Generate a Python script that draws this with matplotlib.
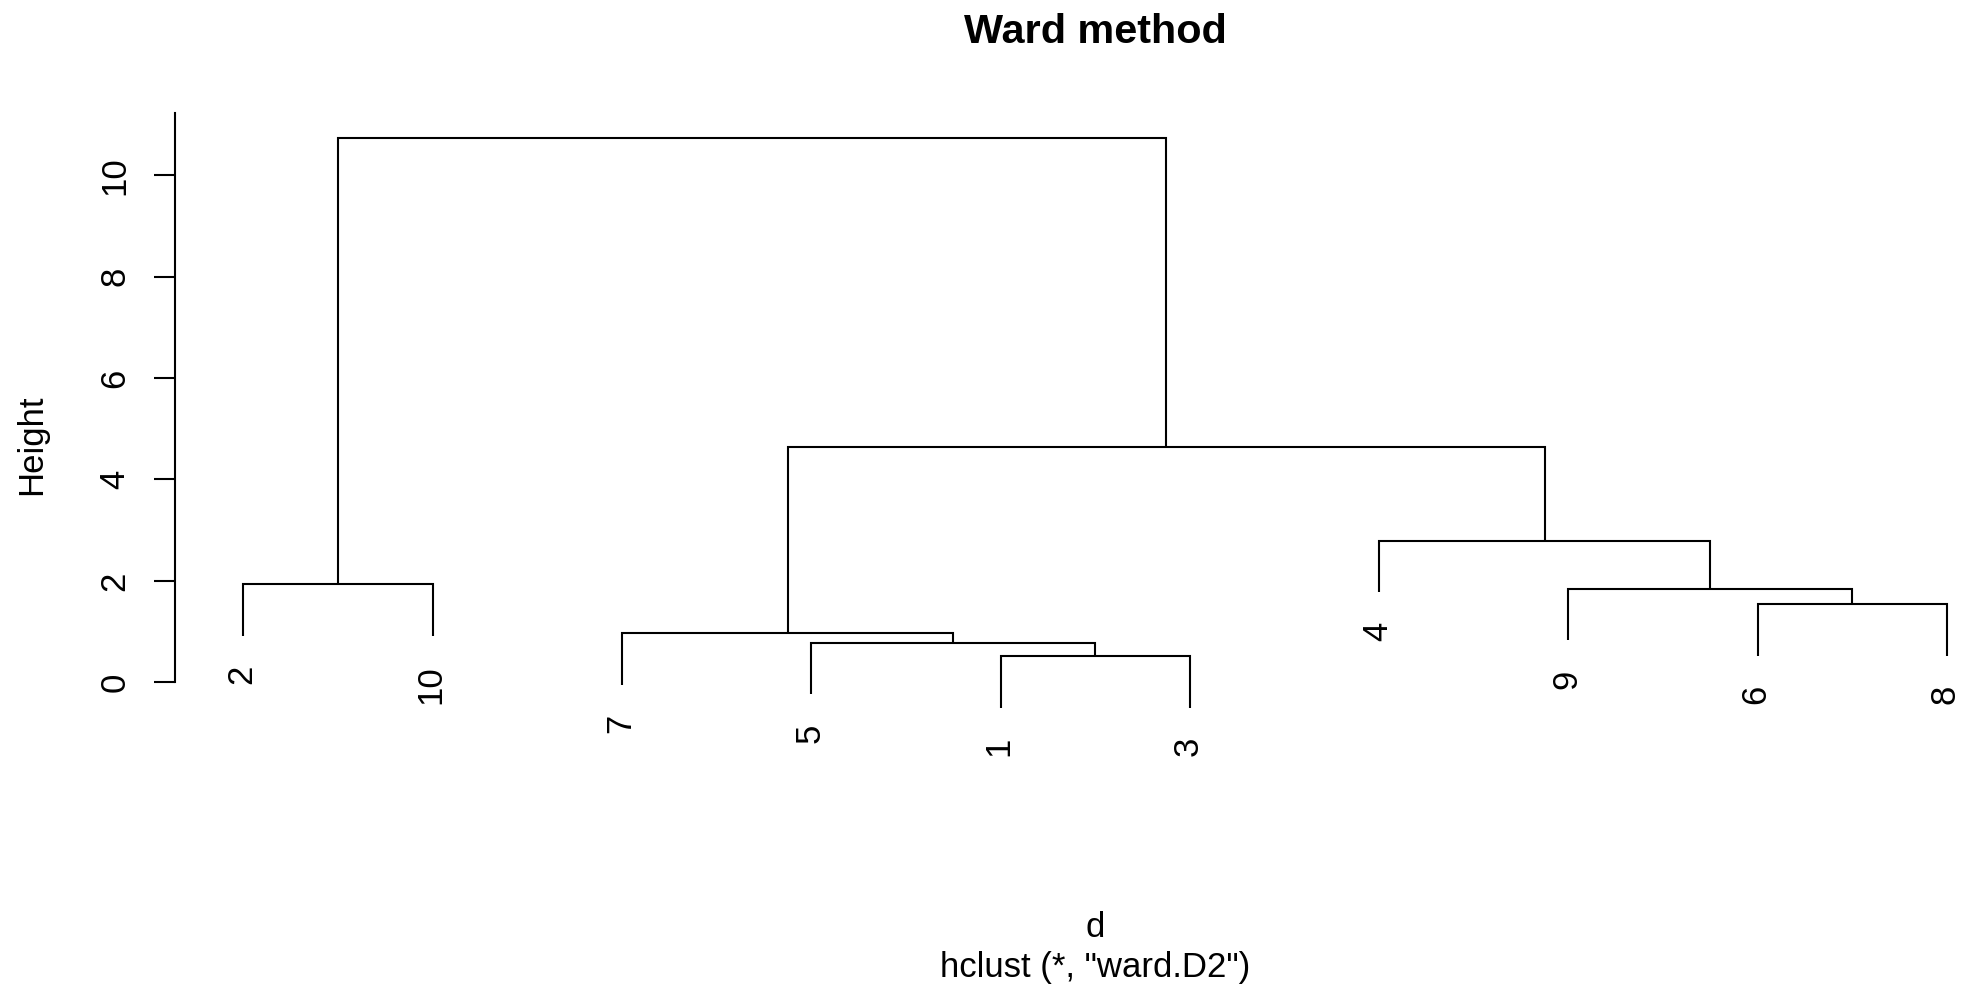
import matplotlib
matplotlib.use("Agg")
import matplotlib.pyplot as plt
from matplotlib.transforms import blended_transform_factory

# Hierarchical clustering result (R hclust style):
# negative = singleton observation, positive = earlier merge step (1-based)
merge_left = [-1, -5, -7, -6, -9, -2, -4, 3, 6]
merge_right = [-3, 1, 2, -8, 4, -10, 5, 7, 8]
merge_height = [0.519, 0.781, 0.966, 1.544, 1.846, 1.939, 2.795, 4.647, 10.74]
leaf_order = [2, 10, 7, 5, 1, 3, 4, 9, 6, 8]

y_ticks = [0, 2, 4, 6, 8, 10]
title = "Ward method"
x_label = "d"
sub_label = 'hclust (*, "ward.D2")'
y_label = "Height"

plt.rcParams["font.family"] = ["Liberation Sans", "DejaVu Sans"]

W, H, DPI = 1962, 988, 100
fig = plt.figure(figsize=(W / DPI, H / DPI), dpi=DPI)

# plot region in pixels (right edge runs past the canvas)
left_px, right_px, top_px, bottom_px = 175.3, 2015.0, 113.3, 771.5
ax = fig.add_axes([left_px / W, 1 - bottom_px / H,
                   (right_px - left_px) / W, (bottom_px - top_px) / H])
n = len(leaf_order)
ax.set_xlim(1 - 0.04 * (n - 1), n + 0.04 * (n - 1))
ax.set_ylim(-1.76, 11.22)

lw = 1.5
hang = 0.1 * (max(merge_height) - min(merge_height))
px2pt = 72.0 / DPI

leaf_pos = {lab: i + 1 for i, lab in enumerate(leaf_order)}
node_x = {}
node_y = {}


def child_xy(c, h):
    if c < 0:
        return leaf_pos[-c], h - hang, True, -c
    return node_x[c], node_y[c], False, None


for k, (a, b, h) in enumerate(zip(merge_left, merge_right, merge_height), start=1):
    xa, ya, la, ida = child_xy(a, h)
    xb, yb, lb, idb = child_xy(b, h)
    ax.plot([xa, xa, xb, xb], [ya, h, h, yb], color="black", lw=lw,
            solid_joinstyle="miter", solid_capstyle="butt", clip_on=False)
    for is_leaf, xx, yy, lab in ((la, xa, ya, ida), (lb, xb, yb, idb)):
        if is_leaf:
            ax.annotate(str(lab), xy=(xx, yy), xytext=(8 * px2pt, -29 * px2pt),
                        textcoords="offset points", rotation=90,
                        rotation_mode="anchor", ha="right", va="baseline",
                        fontsize=25, annotation_clip=False)
    node_x[k] = (xa + xb) / 2.0
    node_y[k] = h

# axis: only the left spine, from 0 up to the top of the region
for s in ("top", "right", "bottom"):
    ax.spines[s].set_visible(False)
ax.spines["left"].set_bounds(0, 11.22)
ax.spines["left"].set_linewidth(lw)
ax.set_xticks([])
ax.set_yticks(y_ticks)
ax.set_yticklabels([])
ax.tick_params(axis="y", length=21.3 * px2pt, width=lw, direction="out")

trans = blended_transform_factory(ax.transAxes, ax.transData)
for t in y_ticks:
    ax.annotate(str(t), xy=(0, t), xycoords=trans,
                xytext=(-51 * px2pt, 0), textcoords="offset points",
                rotation=90, rotation_mode="anchor", ha="center",
                va="baseline", fontsize=25)

cx = (left_px + right_px) / 2 / W
fig.text(cx, 1 - 43 / H, title, ha="center", va="baseline",
         fontsize=29.8, fontweight="bold")
fig.text(cx, 1 - 937 / H, x_label, ha="center", va="baseline", fontsize=25)
fig.text(cx, 1 - 977 / H, sub_label, ha="center", va="baseline", fontsize=25)
fig.text(40.7 / W, 1 - 445 / H, y_label, rotation=90, rotation_mode="anchor",
         ha="center", va="baseline", fontsize=25)

fig.savefig("out.png", dpi=DPI)
